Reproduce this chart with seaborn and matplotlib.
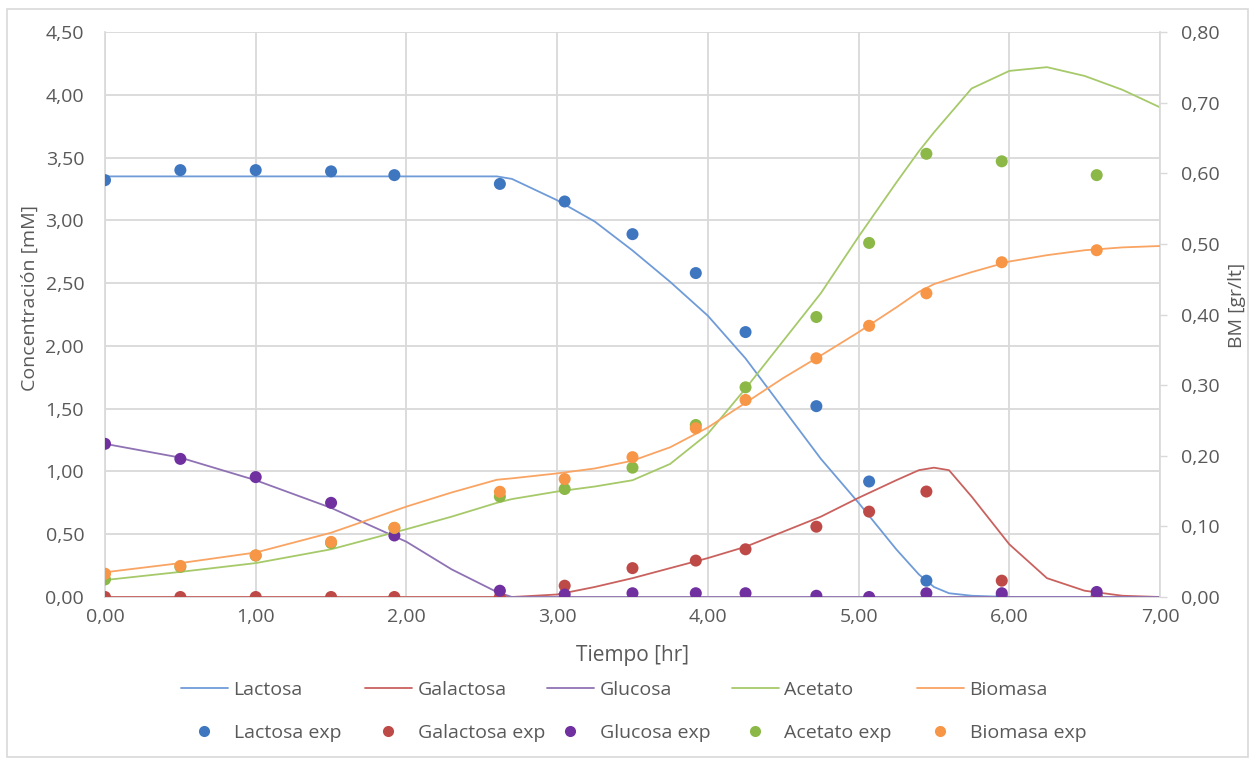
import numpy as np
import pandas as pd
import matplotlib
matplotlib.use("Agg")
import matplotlib.pyplot as plt
from matplotlib.lines import Line2D
from matplotlib.ticker import FuncFormatter, MultipleLocator
import seaborn as sns

# ---------------- data ----------------
t_model = [0.0, 0.5, 1.0, 1.5, 2.0, 2.3, 2.6, 2.7, 3.0, 3.25, 3.5, 3.75, 4.0,
           4.25, 4.5, 4.75, 5.0, 5.25, 5.4, 5.5, 5.6, 5.75, 6.0, 6.25, 6.5, 6.75, 7.0]
lactosa_model = [3.35, 3.35, 3.35, 3.35, 3.35, 3.35, 3.35, 3.33, 3.16, 2.99, 2.76, 2.51, 2.24,
                 1.90, 1.50, 1.10, 0.75, 0.38, 0.18, 0.08, 0.03, 0.01, 0.0, 0.0, 0.0, 0.0, 0.0]
galactosa_model = [0.0, 0.0, 0.0, 0.0, 0.0, 0.0, 0.0, 0.0, 0.02, 0.08, 0.15, 0.23, 0.31,
                   0.40, 0.52, 0.64, 0.79, 0.93, 1.01, 1.03, 1.01, 0.80, 0.42, 0.15, 0.05, 0.01, 0.0]
glucosa_model = [1.22, 1.11, 0.93, 0.71, 0.44, 0.22, 0.04, 0.0, 0.0, 0.0, 0.0, 0.0, 0.0,
                 0.0, 0.0, 0.0, 0.0, 0.0, 0.0, 0.0, 0.0, 0.0, 0.0, 0.0, 0.0, 0.0, 0.0]
acetato_model = [0.135, 0.20, 0.27, 0.38, 0.54, 0.64, 0.75, 0.78, 0.84, 0.88, 0.93, 1.06, 1.30,
                 1.66, 2.04, 2.42, 2.87, 3.30, 3.55, 3.70, 3.84, 4.05, 4.19, 4.22, 4.15, 4.04, 3.90]
biomasa_model = [0.035, 0.048, 0.063, 0.091, 0.128, 0.148, 0.166, 0.168, 0.175, 0.182, 0.193, 0.212, 0.240,
                 0.275, 0.310, 0.342, 0.375, 0.410, 0.432, 0.443, 0.450, 0.460, 0.475, 0.484, 0.491, 0.495, 0.497]

t_exp = [0.0, 0.5, 1.0, 1.5, 1.92, 2.62, 3.05, 3.5, 3.92, 4.25, 4.72, 5.07, 5.45, 5.95, 6.58]
lactosa_exp = [3.32, 3.40, 3.40, 3.39, 3.36, 3.29, 3.15, 2.89, 2.58, 2.11, 1.52, 0.92, 0.13, 0.01, 0.01]
galactosa_exp = [0.0, 0.0, 0.0, 0.0, 0.0, 0.0, 0.09, 0.23, 0.29, 0.38, 0.56, 0.68, 0.84, 0.13, 0.0]
glucosa_exp = [1.22, 1.10, 0.955, 0.75, 0.49, 0.05, 0.02, 0.03, 0.03, 0.03, 0.01, 0.0, 0.03, 0.03, 0.04]
acetato_exp = [0.14, 0.24, 0.33, 0.43, 0.55, 0.80, 0.86, 1.03, 1.37, 1.67, 2.23, 2.82, 3.53, 3.47, 3.36]
biomasa_exp = [0.033, 0.044, 0.059, 0.078, 0.098, 0.149, 0.167, 0.198, 0.239, 0.279, 0.338, 0.384, 0.430, 0.474, 0.491]

names = ["Lactosa", "Galactosa", "Glucosa", "Acetato", "Biomasa"]
line_colors = ["#6F9BD8", "#C9625F", "#8F72B4", "#A6C96A", "#F9A463"]
dot_colors = ["#3F76C0", "#BE4A47", "#7030A0", "#8CB848", "#F79646"]

# ---------------- figure ----------------
sns.set_theme(style="white")
plt.rcParams["font.family"] = ["Open Sans", "DejaVu Sans"]
text_color = "#595959"
W, H = 1249, 759

fig = plt.figure(figsize=(W / 100, H / 100), dpi=100)
ax = fig.add_axes([105 / W, 1 - 597 / H, (1160 - 105) / W, (597 - 32) / H])
ax2 = ax.twinx()

model_df = pd.DataFrame({"t": t_model, "Lactosa": lactosa_model, "Galactosa": galactosa_model,
                         "Glucosa": glucosa_model, "Acetato": acetato_model})
exp_df = pd.DataFrame({"t": t_exp, "Lactosa": lactosa_exp, "Galactosa": galactosa_exp,
                       "Glucosa": glucosa_exp, "Acetato": acetato_exp})

LW = 1.3
S = 75
for i, n in enumerate(names[:4]):
    sns.lineplot(data=model_df, x="t", y=n, ax=ax, color=line_colors[i], linewidth=LW, zorder=3)
for i, n in enumerate(names[:4]):
    sns.scatterplot(data=exp_df, x="t", y=n, ax=ax, color=dot_colors[i], s=S,
                    edgecolor="none", zorder=4)

sns.lineplot(x=t_model, y=biomasa_model, ax=ax2, color=line_colors[4], linewidth=LW, zorder=3)
sns.scatterplot(x=t_exp, y=biomasa_exp, ax=ax2, color=dot_colors[4], s=S, edgecolor="none", zorder=4)

ax.set_xlim(0, 7)
ax.set_ylim(0, 4.5)
ax2.set_ylim(0, 0.8)
ax.xaxis.set_major_locator(MultipleLocator(1))
ax.yaxis.set_major_locator(MultipleLocator(0.5))
ax2.yaxis.set_major_locator(MultipleLocator(0.1))
fmt = FuncFormatter(lambda v, p: f"{v:.2f}".replace(".", ","))
ax.xaxis.set_major_formatter(fmt)
ax.yaxis.set_major_formatter(fmt)
ax2.yaxis.set_major_formatter(fmt)

ax.grid(True, color="#D9D9D9", linewidth=1.3)
ax.set_axisbelow(True)
ax2.grid(False)

for a in (ax, ax2):
    for s in a.spines.values():
        s.set_visible(False)
ax2.spines["right"].set_visible(True)
ax2.spines["right"].set_color("#D9D9D9")
ax.spines["left"].set_visible(True)
ax.spines["left"].set_color("#D9D9D9")
ax.spines["bottom"].set_visible(True)
ax.spines["bottom"].set_color("#D9D9D9")

ax.tick_params(axis="y", labelsize=14, colors=text_color, length=0, pad=15)
ax.tick_params(axis="x", labelsize=14, colors=text_color, length=0, pad=8)
ax2.tick_params(axis="y", labelsize=14, colors=text_color, length=5, width=1, pad=10,
                direction="out", color="#D9D9D9")

ax.set_xlabel("Tiempo [hr]", fontsize=15, color=text_color)
ax.set_ylabel("Concentración [mM]", fontsize=14, color=text_color)
ax2.set_ylabel("BM [gr/lt]", fontsize=14, color=text_color, rotation=90)
ax.xaxis.set_label_coords(0.5, -(645 - 597) / 565)
ax.yaxis.set_label_coords((39 - 105) / 1055, (597 - 298) / 565)
ax2.yaxis.set_label_coords((1228 - 105) / 1055, (597 - 305) / 565)

# legend: one column per species, row 1 model line, row 2 experimental points
col_x = [181, 365, 547, 732, 917]
for i, n in enumerate(names):
    hs = [Line2D([0], [0], color=line_colors[i], linewidth=LW),
          Line2D([0], [0], color=dot_colors[i], marker="o", linestyle="none", markersize=8,
                 markeredgewidth=0)]
    leg = fig.legend(hs, [n, n + " exp"], loc="center left",
                     bbox_to_anchor=(col_x[i] / W, 1 - 711.5 / H),
                     frameon=False, fontsize=14, handlelength=2.4, handletextpad=0.3,
                     labelspacing=1.3, borderpad=0, borderaxespad=0)
    for txt in leg.get_texts():
        txt.set_color(text_color)

# chart border
fig.patches.append(plt.Rectangle((7 / W, 0.002), 1 - 8 / W, 1 - 9 / H - 0.002,
                                 transform=fig.transFigure, fill=False, edgecolor="#D9D9D9",
                                 linewidth=1.2))

fig.savefig("out.png", dpi=100)
